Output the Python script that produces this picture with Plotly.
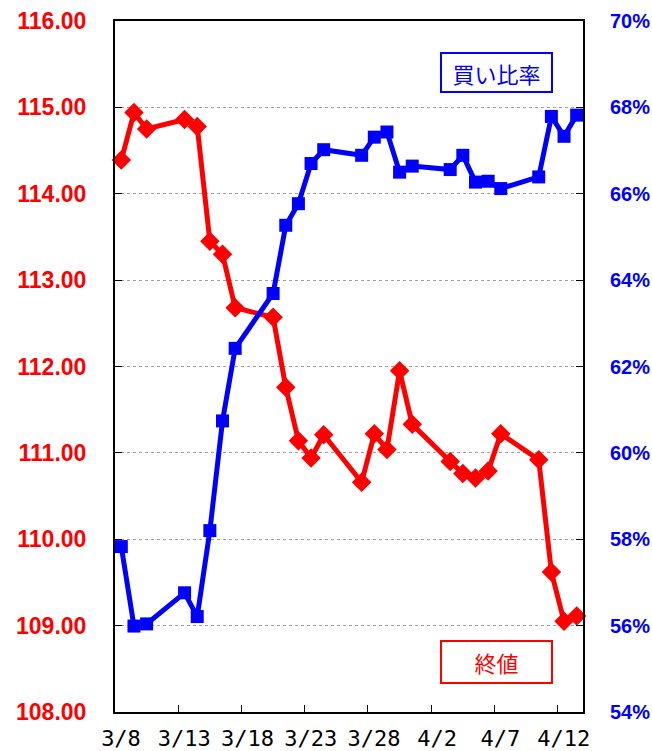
import plotly.graph_objects as go

dates = ["2017-03-08", "2017-03-09", "2017-03-10", "2017-03-13", "2017-03-14",
         "2017-03-15", "2017-03-16", "2017-03-17", "2017-03-20", "2017-03-21",
         "2017-03-22", "2017-03-23", "2017-03-24", "2017-03-27", "2017-03-28",
         "2017-03-29", "2017-03-30", "2017-03-31", "2017-04-03", "2017-04-04",
         "2017-04-05", "2017-04-06", "2017-04-07", "2017-04-10", "2017-04-11",
         "2017-04-12", "2017-04-13"]

close_price = [114.39, 114.94, 114.75, 114.86, 114.78,
               113.45, 113.30, 112.68, 112.57, 111.76,
               111.14, 110.94, 111.21, 110.66, 111.22,
               111.04, 111.95, 111.33, 110.90, 110.76,
               110.71, 110.79, 111.22, 110.92, 109.62,
               109.05, 109.11]

buy_ratio = [57.83, 55.99, 56.04, 56.76, 56.21,
             58.20, 60.74, 62.42, 63.69, 65.27,
             65.77, 66.70, 67.02, 66.89, 67.31,
             67.43, 66.50, 66.64, 66.56, 66.89,
             66.27, 66.29, 66.12, 66.39, 67.79,
             67.33, 67.82]

tick_positions = ["2017-03-07 12:00", "2017-03-12 12:00", "2017-03-17 12:00",
                  "2017-03-22 12:00", "2017-03-27 12:00", "2017-04-01 12:00",
                  "2017-04-06 12:00", "2017-04-11 12:00"]
tick_labels = ["3/8", "3/13", "3/18", "3/23", "3/28", "4/2", "4/7", "4/12"]

left_ticks = [108, 109, 110, 111, 112, 113, 114, 115, 116]
right_ticks = [54, 56, 58, 60, 62, 64, 66, 68, 70]

fig = go.Figure()
fig.add_trace(go.Scatter(
    x=dates, y=close_price, name="終値", mode="lines+markers",
    line=dict(color="#ff0000", width=5),
    marker=dict(symbol="diamond", size=15, color="#ff0000"),
    yaxis="y", cliponaxis=False))
fig.add_trace(go.Scatter(
    x=dates, y=buy_ratio, name="買い比率", mode="lines+markers",
    line=dict(color="#0000ff", width=5),
    marker=dict(symbol="square", size=13, color="#0000ff"),
    yaxis="y2", cliponaxis=False))

fig.update_layout(
    width=652, height=751,
    margin=dict(l=115, r=69, t=21, b=39, autoexpand=False),
    paper_bgcolor="white", plot_bgcolor="white",
    showlegend=False,
    xaxis=dict(
        type="date", automargin=False,
        range=["2017-03-07 12:00", "2017-04-13 12:00"],
        tickmode="array", tickvals=tick_positions, ticktext=tick_labels,
        ticks="inside", ticklen=7, tickwidth=1, tickcolor="black",
        ticklabelshift=6, ticklabelstandoff=6,
        showline=True, linecolor="black", linewidth=2, mirror=True,
        showgrid=False, zeroline=False,
        tickfont=dict(family="DejaVu Sans Mono", size=22, color="black"),
    ),
    yaxis=dict(
        range=[108, 116], automargin=False,
        tickmode="array", tickvals=left_ticks,
        ticktext=[f"{v:.2f}" for v in left_ticks],
        ticks="inside", ticklen=7, tickwidth=1, tickcolor="black",
        ticklabelstandoff=22,
        showline=True, linecolor="black", linewidth=2,
        showgrid=True, gridcolor="#a0a0a0", griddash="dot", gridwidth=1,
        zeroline=False,
        tickfont=dict(family="Liberation Sans", size=23, color="#ff0000",
                      weight="bold"),
    ),
    yaxis2=dict(
        range=[54, 70], overlaying="y", side="right", automargin=False,
        tickmode="array", tickvals=right_ticks,
        ticktext=[f"{v}%" for v in right_ticks],
        ticks="inside", ticklen=7, tickwidth=1, tickcolor="black",
        ticklabelstandoff=21,
        showline=True, linecolor="black", linewidth=2,
        showgrid=False, zeroline=False,
        tickfont=dict(family="Liberation Sans", size=20, color="#0000ff",
                      weight="bold"),
    ),
    annotations=[
        dict(text="買い比率", xref="paper", yref="paper", x=0.815, y=0.926,
             xanchor="center", yanchor="middle", showarrow=False,
             font=dict(family="Noto Sans CJK JP", size=22, color="#0000ff"),
             bordercolor="#0000ff", borderwidth=2, borderpad=1,
             bgcolor="white", width=107, height=35),
        dict(text="終値", xref="paper", yref="paper", x=0.815, y=0.0724,
             xanchor="center", yanchor="middle", showarrow=False,
             font=dict(family="Noto Sans CJK JP", size=22, color="#ff0000"),
             bordercolor="#ff0000", borderwidth=2, borderpad=1,
             bgcolor="white", width=107, height=38),
    ],
)

fig.write_html("out.html",
               config={"displayModeBar": False},
               post_script="document.body.style.margin='0';"
                           "document.body.style.overflow='hidden';")
